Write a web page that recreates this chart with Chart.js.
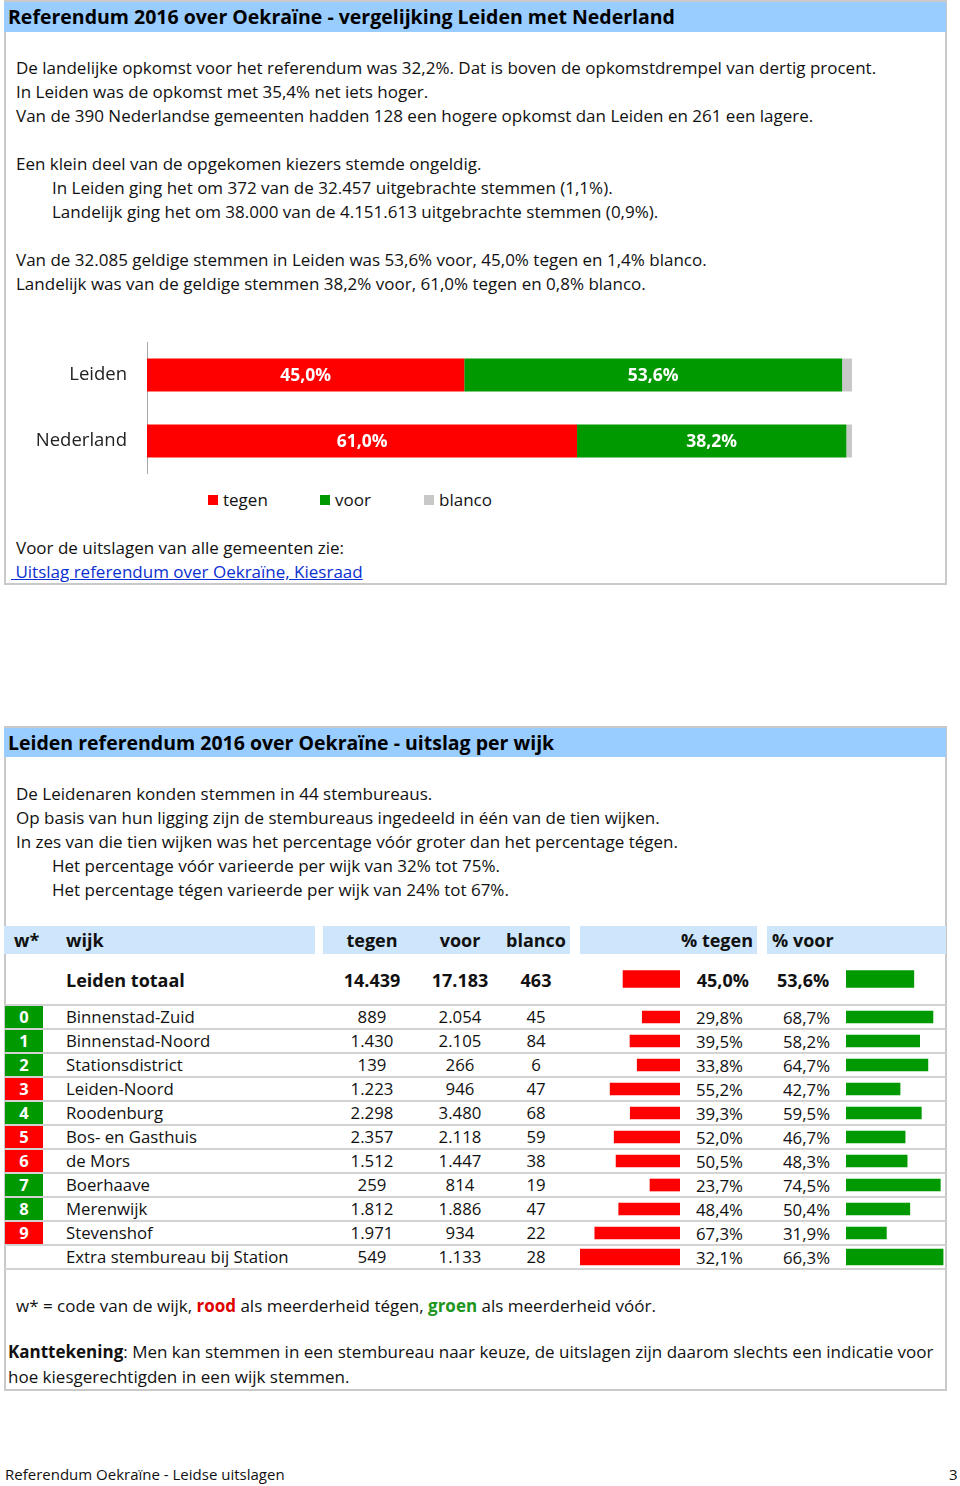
<!DOCTYPE html>
<html><head><meta charset="utf-8">
<script src="https://cdn.jsdelivr.net/npm/chart.js@4.4.1/dist/chart.umd.min.js"></script>
<style>
body{margin:0;width:960px;height:1486px;position:relative;background:#fff;font-family:"Open Sans","Noto Sans",sans-serif;color:#111;overflow:hidden;}
.box{position:absolute;border:2px solid #c9c9c9;box-sizing:border-box;}
.hdr{position:absolute;background:#99ccff;}
.title{position:absolute;font-weight:bold;font-size:19.5px;line-height:30px;white-space:nowrap;color:#000;}
.t{position:absolute;white-space:nowrap;font-size:17px;line-height:24px;height:24px;}
.b{font-weight:bold;}
.th{position:absolute;background:#cde6fb;}
.c{text-align:center;}
.r{text-align:right;}
canvas{position:absolute;}
.sq{position:absolute;width:10px;height:10px;}
.line{position:absolute;left:4px;width:942px;height:2px;background:#d2d2d2;}
.code{position:absolute;left:5px;width:38px;color:#fff;font-weight:bold;text-align:center;font-size:16.5px;line-height:22px;}
a{color:#0b2fd1;}
</style>
</head><body>

<!-- Box 1 -->
<div class="box" style="left:4px;top:0px;width:943px;height:585px;"></div>
<div class="hdr" style="left:4px;top:2px;width:942px;height:30px;"></div>
<div class="title" style="left:8px;top:2px;">Referendum 2016 over Oekraïne - vergelijking Leiden met Nederland</div>

<div class="t" style="left:16px;top:56px;">De landelijke opkomst voor het referendum was 32,2%. Dat is boven de opkomstdrempel van dertig procent.</div>
<div class="t" style="left:16px;top:80px;">In Leiden was de opkomst met 35,4% net iets hoger.</div>
<div class="t" style="left:16px;top:104px;">Van de 390 Nederlandse gemeenten hadden 128 een hogere opkomst dan Leiden en 261 een lagere.</div>
<div class="t" style="left:16px;top:152px;">Een klein deel van de opgekomen kiezers stemde ongeldig.</div>
<div class="t" style="left:52px;top:176px;">In Leiden ging het om 372 van de 32.457 uitgebrachte stemmen (1,1%).</div>
<div class="t" style="left:52px;top:200px;">Landelijk ging het om 38.000 van de 4.151.613 uitgebrachte stemmen (0,9%).</div>
<div class="t" style="left:16px;top:248px;">Van de 32.085 geldige stemmen in Leiden was 53,6% voor, 45,0% tegen en 1,4% blanco.</div>
<div class="t" style="left:16px;top:272px;">Landelijk was van de geldige stemmen 38,2% voor, 61,0% tegen en 0,8% blanco.</div>

<canvas id="cmp" width="832" height="132" style="left:20px;top:342px;width:832px;height:132px;"></canvas>
<div id="legend"></div>

<div class="t" style="left:16px;top:536px;">Voor de uitslagen van alle gemeenten zie:</div>
<div class="t" style="left:11px;top:560px;"><a href="#">&nbsp;Uitslag referendum over Oekraïne, Kiesraad</a></div>

<!-- Box 2 -->
<div class="box" style="left:4px;top:726px;width:943px;height:665px;"></div>
<div class="hdr" style="left:4px;top:728px;width:942px;height:29px;"></div>
<div class="title" style="left:8px;top:728px;">Leiden referendum 2016 over Oekraïne - uitslag per wijk</div>

<div class="t" style="left:16px;top:782px;">De Leidenaren konden stemmen in 44 stembureaus.</div>
<div class="t" style="left:16px;top:806px;">Op basis van hun ligging zijn de stembureaus ingedeeld in één van de tien wijken.</div>
<div class="t" style="left:16px;top:830px;">In zes van die tien wijken was het percentage vóór groter dan het percentage tégen.</div>
<div class="t" style="left:52px;top:854px;">Het percentage vóór varieerde per wijk van 32% tot 75%.</div>
<div class="t" style="left:52px;top:878px;">Het percentage tégen varieerde per wijk van 24% tot 67%.</div>

<div class="th" style="left:4px;top:926px;width:311px;height:28px;"></div>
<div class="th" style="left:323px;top:926px;width:247px;height:28px;"></div>
<div class="th" style="left:580px;top:926px;width:177px;height:28px;"></div>
<div class="th" style="left:767px;top:926px;width:179px;height:28px;"></div>
<div id="table"></div>

<canvas id="totT" width="100" height="24" style="left:580px;top:967px;width:100px;height:24px;"></canvas>
<canvas id="totV" width="100" height="24" style="left:846px;top:967px;width:100px;height:24px;"></canvas>
<canvas id="rowT" width="100" height="264" style="left:580px;top:1005px;width:100px;height:264px;"></canvas>
<canvas id="rowV" width="100" height="264" style="left:846px;top:1005px;width:100px;height:264px;"></canvas>

<div class="t" style="left:16px;top:1294px;">w* = code van de wijk, <span class="b" style="color:#e00000;">rood</span> als meerderheid tégen, <span class="b" style="color:#1e961e;">groen</span> als meerderheid vóór.</div>
<div class="t" style="left:8px;top:1340px;"><span class="b">Kanttekening</span>: Men kan stemmen in een stembureau naar keuze, de uitslagen zijn daarom slechts een indicatie voor</div>
<div class="t" style="left:8px;top:1365px;">hoe kiesgerechtigden in een wijk stemmen.</div>

<div class="t" style="left:5px;top:1462px;font-size:15px;">Referendum Oekraïne - Leidse uitslagen</div>
<div class="t" style="left:949px;top:1462px;font-size:15px;">3</div>

<script>
// ---------- data ----------
const compareLabels = ['Leiden', 'Nederland'];
const compareTegen  = [45.0, 61.0];
const compareVoor   = [53.6, 38.2];
const compareBlanco = [1.4, 0.8];
const legendLabels  = ['tegen', 'voor', 'blanco'];

const headerLabels = ['w*', 'wijk', 'tegen', 'voor', 'blanco', '% tegen', '% voor'];

const totaalLabel = 'Leiden totaal';
const totaalVotes = [14439, 17183, 463];   // tegen, voor, blanco
const totaalPct   = [45.0, 53.6];          // % tegen, % voor

const wijkCodes  = ['0','1','2','3','4','5','6','7','8','9',''];
const wijkNames  = ['Binnenstad-Zuid','Binnenstad-Noord','Stationsdistrict','Leiden-Noord','Roodenburg',
                    'Bos- en Gasthuis','de Mors','Boerhaave','Merenwijk','Stevenshof','Extra stembureau bij Station'];
const wijkTegen  = [889, 1430, 139, 1223, 2298, 2357, 1512, 259, 1812, 1971, 549];
const wijkVoor   = [2054, 2105, 266, 946, 3480, 2118, 1447, 814, 1886, 934, 1133];
const wijkBlanco = [45, 84, 6, 47, 68, 59, 38, 19, 47, 22, 28];
const wijkPctTegen = [29.8, 39.5, 33.8, 55.2, 39.3, 52.0, 50.5, 23.7, 48.4, 67.3, 32.1];
const wijkPctVoor  = [68.7, 58.2, 64.7, 42.7, 59.5, 46.7, 48.3, 74.5, 50.4, 31.9, 66.3];

// ---------- helpers ----------
const RED = '#ff0000', GREEN = '#009900', GRAY = '#c8c8c8';
const FONT = '"Open Sans", "Noto Sans", sans-serif';
const fmtNum = n => String(n).replace(/\B(?=(\d{3})+(?!\d))/g, '.');
const fmtPct = v => v.toFixed(1).replace('.', ',') + '%';

function txt(parent, x, yc, text, cls, style) {
  const d = document.createElement('div');
  d.className = 't ' + (cls || '');
  d.style.left = x + 'px';
  d.style.top = (yc - 12) + 'px';
  if (style) Object.assign(d.style, style);
  d.textContent = text;
  parent.appendChild(d);
  return d;
}

// ---------- legend (main chart) ----------
const lg = document.getElementById('legend');
const legendColors = [RED, GREEN, GRAY];
const legendX = [208, 320, 424];
legendLabels.forEach((l, i) => {
  const s = document.createElement('div');
  s.className = 'sq'; s.style.left = legendX[i] + 'px'; s.style.top = '495px'; s.style.background = legendColors[i];
  lg.appendChild(s);
  txt(lg, legendX[i] + 15, 500, l, '', {fontSize: '17px'});
});

// ---------- table text ----------
const tb = document.getElementById('table');
const colTegenC = 372, colVoorC = 460, colBlancoC = 536;
function centered(yc, c, text, cls, fs) {
  txt(tb, c - 50, yc, text, 'c ' + (cls || ''), {width: '100px', fontSize: fs});
}
// header
const HF = '18px';
txt(tb, 14, 940, headerLabels[0], 'b', {fontSize: HF});
txt(tb, 66, 940, headerLabels[1], 'b', {fontSize: HF});
centered(940, colTegenC, headerLabels[2], 'b', HF);
centered(940, colVoorC, headerLabels[3], 'b', HF);
centered(940, colBlancoC, headerLabels[4], 'b', HF);
txt(tb, 653, 940, headerLabels[5], 'b r', {width: '100px', fontSize: HF});
txt(tb, 772, 940, headerLabels[6], 'b', {fontSize: HF});
// totaal
txt(tb, 66, 980, totaalLabel, 'b', {fontSize: HF});
centered(980, colTegenC, fmtNum(totaalVotes[0]), 'b', HF);
centered(980, colVoorC, fmtNum(totaalVotes[1]), 'b', HF);
centered(980, colBlancoC, fmtNum(totaalVotes[2]), 'b', HF);
txt(tb, 649, 980, fmtPct(totaalPct[0]), 'b r', {width: '100px', fontSize: HF});
txt(tb, 777, 980, fmtPct(totaalPct[1]), 'b', {fontSize: HF});
// rows
const ROW0 = 1005, ROWH = 24;
for (let i = 0; i <= wijkNames.length; i++) {
  const ln = document.createElement('div');
  ln.className = 'line'; ln.style.top = (ROW0 + i * ROWH - 1) + 'px';
  tb.appendChild(ln);
}
wijkNames.forEach((name, i) => {
  const top = ROW0 + i * ROWH;
  const yc = top + 12;
  if (wijkCodes[i] !== '') {
    const c = document.createElement('div');
    c.className = 'code';
    c.style.top = (top + 1) + 'px';
    c.style.height = '22px';
    c.style.background = wijkTegen[i] > wijkVoor[i] ? RED : GREEN;
    c.textContent = wijkCodes[i];
    tb.appendChild(c);
  }
  txt(tb, 66, yc, name, '', {fontSize: '16.8px'});
  centered(yc, colTegenC, fmtNum(wijkTegen[i]), '', '16.8px');
  centered(yc, colVoorC, fmtNum(wijkVoor[i]), '', '16.8px');
  centered(yc, colBlancoC, fmtNum(wijkBlanco[i]), '', '16.8px');
  txt(tb, 643, yc + 1, fmtPct(wijkPctTegen[i]), 'r', {width: '100px', fontSize: '16.8px'});
  txt(tb, 783, yc + 1, fmtPct(wijkPctVoor[i]), '', {fontSize: '16.8px'});
});

// ---------- charts ----------
const barLabels = {
  id: 'barLabels',
  afterDatasetsDraw(chart) {
    const ctx = chart.ctx;
    ctx.save();
    ctx.font = 'bold 17.5px ' + FONT;
    ctx.fillStyle = '#ffffff';
    ctx.textAlign = 'center';
    ctx.textBaseline = 'middle';
    chart.data.datasets.forEach((ds, di) => {
      if (!ds.showLabel) return;
      chart.getDatasetMeta(di).data.forEach((el, i) => {
        const p = el.getCenterPoint();
        ctx.fillText(fmtPct(ds.data[i]), p.x, p.y + 1);
      });
    });
    ctx.restore();
  }
};

new Chart(document.getElementById('cmp'), {
  type: 'bar',
  data: {
    labels: compareLabels,
    datasets: [
      {label: legendLabels[0], data: compareTegen, backgroundColor: RED, showLabel: true},
      {label: legendLabels[1], data: compareVoor, backgroundColor: GREEN, showLabel: true},
      {label: legendLabels[2], data: compareBlanco, backgroundColor: GRAY}
    ]
  },
  options: {
    indexAxis: 'y',
    responsive: false,
    animation: false,
    layout: {padding: 0},
    datasets: {bar: {categoryPercentage: 1, barPercentage: 0.5}},
    plugins: {legend: {display: false}, tooltip: {enabled: false}},
    scales: {
      x: {display: false, stacked: true, min: 0, max: 100},
      y: {
        stacked: true,
        afterFit: s => { s.width = 127; s.paddingTop = 0; s.paddingBottom = 0; },
        grid: {display: true, color: 'rgba(0,0,0,0)', drawTicks: false},
        border: {display: true, color: '#a6a6a6', width: 1},
        ticks: {padding: 20, color: '#222', font: {family: FONT, size: 18.5}}
      }
    }
  },
  plugins: [barLabels]
});

function barChart(id, labels, datasets, reverse, extraMax) {
  const scales = {
    x: {display: false, reverse: reverse, min: 0, max: 79},
    y: {display: false}
  };
  if (extraMax) scales.x2 = {display: false, reverse: reverse, min: 0, max: extraMax, axis: 'x'};
  new Chart(document.getElementById(id), {
    type: 'bar',
    data: {labels: labels, datasets: datasets},
    options: {
      indexAxis: 'y', responsive: false, animation: false,
      layout: {padding: 0},
      plugins: {legend: {display: false}, tooltip: {enabled: false}},
      scales: scales
    }
  });
}

// Leiden totaal bars
barChart('totT', [totaalLabel], [{data: [totaalPct[0]], backgroundColor: RED, barThickness: 17}], true);
barChart('totV', [totaalLabel], [{data: [totaalPct[1]], backgroundColor: GREEN, barThickness: 17}], false);

// per-wijk bars; the last row (extra stembureau) is a single-cell data bar with its own scale
const n = wijkNames.length;
const mainT = wijkPctTegen.map((v, i) => i < n - 1 ? v : null);
const extraT = wijkPctTegen.map((v, i) => i === n - 1 ? v : null);
const mainV = wijkPctVoor.map((v, i) => i < n - 1 ? v : null);
const extraV = wijkPctVoor.map((v, i) => i === n - 1 ? v : null);
barChart('rowT', wijkNames, [
  {data: mainT, backgroundColor: RED, barThickness: 12, grouped: false, xAxisID: 'x'},
  {data: extraT, backgroundColor: RED, barThickness: 16, grouped: false, xAxisID: 'x2'}
], true, wijkPctTegen[n - 1]);
barChart('rowV', wijkNames, [
  {data: mainV, backgroundColor: GREEN, barThickness: 12, grouped: false, xAxisID: 'x'},
  {data: extraV, backgroundColor: GREEN, barThickness: 16, grouped: false, xAxisID: 'x2'}
], false, wijkPctVoor[n - 1] * 1.03);
</script>
</body></html>
